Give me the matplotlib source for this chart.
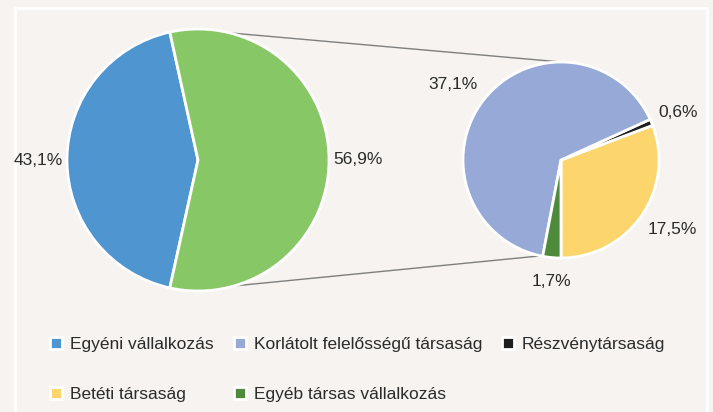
import numpy as np
import matplotlib
matplotlib.use("Agg")
import matplotlib.pyplot as plt
from matplotlib.patches import Rectangle

plt.rcParams['font.family'] = ['Liberation Sans', 'DejaVu Sans']

# adatok
main_labels = ['Egyéni vállalkozás', 'Társas vállalkozás']
main_values = [43.1, 56.9]
main_colors = ['#4f96d0', '#88c766']

sub_labels = ['Betéti társaság', 'Részvénytársaság',
              'Korlátolt felelősségű társaság', 'Egyéb társas vállalkozás']
sub_values = [17.5, 0.6, 37.1, 1.7]
sub_colors = ['#fcd56c', '#1e1e1e', '#97a9d6', '#4e8a3c']

legend_order = ['Egyéni vállalkozás', 'Betéti társaság',
                'Korlátolt felelősségű társaság', 'Egyéb társas vállalkozás',
                'Részvénytársaság']

bg = '#f6f3f0'
txt = '#2b2b2b'
fs = 12.5

W, H = 713, 412
fig = plt.figure(figsize=(W / 100, H / 100), dpi=100, facecolor=bg)
ax = fig.add_axes([0, 0, 1, 1])
ax.set_facecolor(bg)

c1, r1 = (198, 252), 131
c2, r2 = (561, 252), 98

fmt = lambda v: ('%.1f%%' % v).replace('.', ',')


def place_labels(wedges, texts, center, r, dx, dy):
    for w, t in zip(wedges, texts):
        a = np.deg2rad((w.theta1 + w.theta2) / 2)
        ca, sa = np.cos(a), np.sin(a)
        t.set_position((center[0] + r * dx * ca, center[1] + r * dy * sa))
        t.set_ha('center' if abs(ca) < 0.3 else ('left' if ca > 0 else 'right'))
        t.set_va('center')


w1, t1 = ax.pie(main_values, colors=main_colors, center=c1, radius=r1,
                startangle=180 * main_values[1] / 100, counterclock=True,
                labels=[fmt(v) for v in main_values],
                wedgeprops=dict(edgecolor='white', linewidth=2),
                textprops=dict(fontsize=fs, color=txt), frame=True)
place_labels(w1, t1, c1, r1, 1.03, 1.03)

sub_share = [v / sum(sub_values) * 100 for v in sub_values]
w2, t2 = ax.pie(sub_share, colors=sub_colors, center=c2, radius=r2,
                startangle=-90, counterclock=True,
                labels=[fmt(v) for v in sub_values],
                wedgeprops=dict(edgecolor='white', linewidth=2),
                textprops=dict(fontsize=fs, color=txt), frame=True)
place_labels(w2, t2, c2, r2, 1.08, 1.25)

ax.set_xlim(0, W)
ax.set_ylim(0, H)
ax.set_aspect('equal')
ax.axis('off')

# keret
ax.add_patch(Rectangle((15, -5), 692, H - 8 + 5, fill=False, ec='white', lw=2))

# összekötő vonalak
for a1, a2 in [(76, 90), (-74, -102)]:
    p1 = (c1[0] + r1 * np.cos(np.deg2rad(a1)), c1[1] + r1 * np.sin(np.deg2rad(a1)))
    p2 = (c2[0] + r2 * np.cos(np.deg2rad(a2)), c2[1] + r2 * np.sin(np.deg2rad(a2)))
    ax.plot([p1[0], p2[0]], [p1[1], p2[1]], color='#7f7f7f', lw=1, zorder=0)

handles = {main_labels[0]: w1[0]}
handles.update({l: w for l, w in zip(sub_labels, w2)})
fig.legend([handles[l] for l in legend_order], legend_order,
           loc='upper left', bbox_to_anchor=(50 / W, 1 - 337 / H),
           ncol=3, frameon=False, fontsize=fs, borderpad=0, borderaxespad=0,
           handlelength=0.7, handleheight=0.7, handletextpad=0.45,
           columnspacing=1.15, labelspacing=2.0, labelcolor=txt)

fig.savefig('out.png', dpi=100, facecolor=bg)
